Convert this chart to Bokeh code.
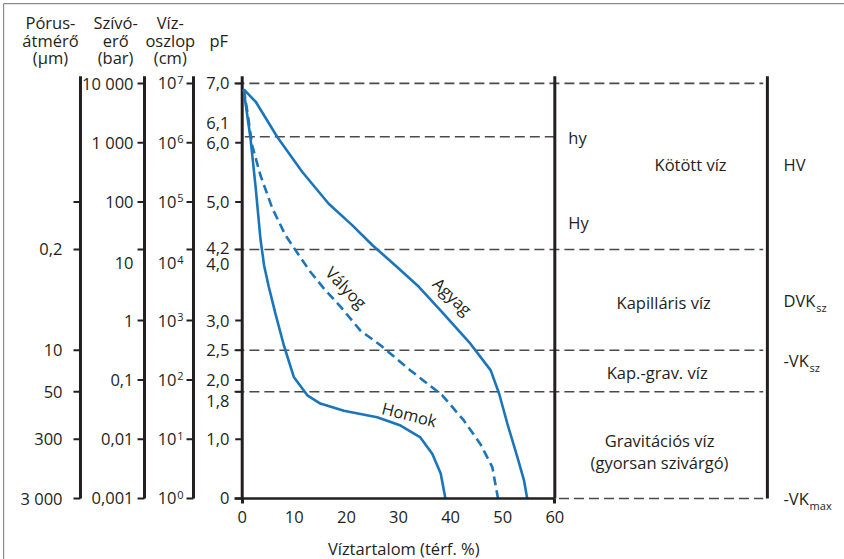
from bokeh.plotting import figure
from bokeh.models import Range1d, FixedTicker
from bokeh.embed import file_html
from bokeh.resources import INLINE
from bokeh.core.properties import value

# ---------------- data ----------------
# pF curves (water content in vol %, pF)
homok_x = [0.3, 0.6, 1.6, 2.6, 3.5, 4.2, 5.1, 6.4, 8.0, 9.9, 12.5, 15.0, 19.5, 25.9, 30.4, 34.2, 36.5, 38.1, 39.0]
homok_pf = [6.90, 6.69, 6.07, 5.23, 4.38, 3.93, 3.57, 3.11, 2.58, 2.05, 1.74, 1.60, 1.48, 1.37, 1.23, 1.03, 0.75, 0.42, 0.0]
valyog_x = [0.3, 1.0, 1.9, 3.5, 5.8, 8.3, 10.9, 13.1, 15.7, 18.9, 22.7, 26.6, 32.3, 38.4, 42.5, 45.7, 48.0, 49.1]
valyog_pf = [6.90, 6.52, 5.96, 5.45, 4.89, 4.44, 4.10, 3.82, 3.54, 3.23, 2.83, 2.58, 2.16, 1.74, 1.32, 0.92, 0.53, 0.0]
agyag_x = [0.3, 2.6, 6.7, 11.5, 16.6, 21.1, 25.0, 29.4, 33.9, 38.1, 43.8, 47.7, 49.3, 50.9, 52.8, 54.1, 54.7]
agyag_pf = [6.90, 6.69, 6.10, 5.51, 4.97, 4.61, 4.27, 3.93, 3.57, 3.17, 2.61, 2.16, 1.77, 1.26, 0.70, 0.30, 0.0]

water_ticks = [0, 10, 20, 30, 40, 50, 60]

# boundaries between water zones (pF)
zone_bounds = [7.0, 4.2, 2.5, 1.8]
hy_pf = 6.1
zone_names = ["Kötött víz", "Kapilláris víz", "Kap.-grav. víz", "Gravitációs víz", "(gyorsan szivárgó)"]

# scale: pF
pf_ticks = [7.0, 6.0, 5.0, 4.2, 3.0, 2.5, 2.0, 1.8, 1.0, 0.0]
pf_labels = ["7,0", "6,1", "6,0", "5,0", "4,2", "4,0", "3,0", "2,5", "2,0", "1,8", "1,0", "0"]
pf_label_pos = [7.0, 6.33, 6.0, 5.0, 4.22, 3.95, 3.0, 2.5, 2.0, 1.65, 1.0, 0.0]
# scale: suction (bar)
szivo_ticks = [7.0, 6.0, 5.0, 4.2, 3.0, 2.0, 1.0, 0.0]
szivo_labels = ["10 000", "1 000", "100", "10", "1", "0,1", "0,01", "0,001"]
szivo_label_pos = [7.0, 6.0, 5.0, 3.97, 3.0, 2.0, 1.0, 0.0]
# scale: water column (cm) = 10^exp
viz_ticks = [7.0, 6.0, 5.0, 4.2, 3.0, 2.0, 1.0, 0.0]
viz_exp = ["7", "6", "5", "4", "3", "2", "1", "0"]
viz_label_pos = [7.0, 6.0, 5.0, 3.97, 3.0, 2.0, 1.0, 0.0]
# scale: pore diameter (µm)
porus_ticks = [5.0, 4.2, 2.5, 1.8, 1.0, 0.0]
porus_labels = ["", "0,2", "10", "50", "300", "3 000"]

# ---------------- style ----------------
FONT = "Open Sans"
FS = "16.5px"
DARK = "#231f20"
BLUE = "#1b75bb"
DASHC = "#4a4a4a"
AX_TOP = 7.12
TICK = 1.34
AX = {"porus": -31.04, "szivo": -18.75, "viz": -9.35, "pf": 0.0}

p = figure(width=844, height=559, output_backend="svg", toolbar_location=None,
           x_range=Range1d(-46.39, 115.60), y_range=Range1d(-1.029, 8.398),
           y_axis_location=None, min_border=0, min_border_left=0, min_border_right=0,
           min_border_top=0, min_border_bottom=0)
p.grid.visible = False
p.outline_line_color = None
p.background_fill_color = "white"
p.border_fill_color = "white"

# x axis, drawn at pF = 0
xa = p.xaxis[0]
xa.fixed_location = 0
xa.ticker = FixedTicker(ticks=water_ticks, minor_ticks=[0, 60])
xa.bounds = (-1.4, 60)
xa.axis_line_width = 2.5
xa.axis_line_color = DARK
xa.major_tick_line_color = None
xa.major_tick_out = 0
xa.major_tick_in = 0
xa.minor_tick_out = 5
xa.minor_tick_in = 0
xa.minor_tick_line_width = 3
xa.minor_tick_line_color = DARK
xa.major_label_text_font = FONT
xa.major_label_text_font_size = FS
xa.major_label_text_color = DARK
xa.major_label_standoff = 8

def txt(x, y, text, align="left", size=FS, angle=0.0):
    p.text(x=x, y=y, text=text, text_align=align, text_baseline="middle",
           text_font=value(FONT), text_font_size=value(size), text_color=DARK, angle=angle)

# image border (left and top edge)
p.segment(x0=[-45.8, -45.8], y0=[-1.1, 8.345], x1=[-45.8, 116], y1=[8.345, 8.345],
          line_color="#8a8a8a", line_width=1.2)

# dashed zone boundaries
p.segment(x0=[-1.5] * len(zone_bounds), y0=zone_bounds, x1=[100.0] * len(zone_bounds), y1=zone_bounds,
          line_color=DASHC, line_width=1.6, line_dash="10 5")
p.segment(x0=[0.5], y0=[hy_pf], x1=[60], y1=[hy_pf], line_color=DASHC, line_width=1.6, line_dash="10 5")
p.segment(x0=[60.8], y0=[0], x1=[100.0], y1=[0], line_color=DASHC, line_width=1.6, line_dash="10 5")

# vertical frame lines
p.segment(x0=[60, 100.8], y0=[0, 0], x1=[60, 100.8], y1=[AX_TOP, AX_TOP], line_color=DARK, line_width=3)

# left scales
axes_x = [AX["porus"], AX["szivo"], AX["viz"], AX["pf"]]
p.segment(x0=axes_x, y0=[0] * 4, x1=axes_x, y1=[AX_TOP] * 4, line_color=DARK, line_width=3)
for key, ticks in (("porus", porus_ticks), ("szivo", szivo_ticks), ("viz", viz_ticks), ("pf", pf_ticks)):
    p.segment(x0=[AX[key] - TICK] * len(ticks), y0=ticks, x1=[AX[key]] * len(ticks), y1=ticks,
              line_color=DARK, line_width=2)

txt([-34.49] * len(porus_labels), porus_ticks, porus_labels, align="right")
txt([-20.86] * len(szivo_labels), szivo_label_pos, szivo_labels, align="right")
txt([-12.61] * len(viz_exp), viz_label_pos, ["10"] * len(viz_exp), align="right")
txt([-12.45] * len(viz_exp), [v + 0.06 for v in viz_label_pos], viz_exp, align="left", size="11px")
txt([-2.44] * len(pf_labels), pf_label_pos, pf_labels, align="right")

# column headers
txt([-36.8] * 3, [8.03, 7.72, 7.43], ["Pórus-", "átmérő", "(µm)"], align="center")
txt([-24.3] * 3, [8.03, 7.72, 7.43], ["Szívó-", "erő", "(bar)"], align="center")
txt([-13.8] * 3, [8.03, 7.72, 7.43], ["Víz-", "oszlop", "(cm)"], align="center")
txt([-4.5], [7.72], ["pF"], align="center")

# curves
p.line(agyag_x, agyag_pf, line_color=BLUE, line_width=2.6)
p.line(homok_x, homok_pf, line_color=BLUE, line_width=2.6)
p.line(valyog_x, valyog_pf, line_color=BLUE, line_width=2.6, line_dash="9 5")

txt([40.4], [3.41], ["Agyag"], align="center", angle=-0.76)
txt([20.0], [3.56], ["Vályog"], align="center", angle=-0.80)
txt([32.1], [1.42], ["Homok"], align="center", angle=-0.25)

# zone texts
txt([86.05, 80.9, 79.65, 80.1, 80.1], [5.64, 3.31, 2.13, 0.98, 0.61], zone_names, align="center")
txt([62.6, 62.6], [6.09, 4.65], ["hy", "Hy"], align="left")
txt([103.9], [5.64], ["HV"], align="left")
txt([103.9, 103.9, 103.9], [3.34, 2.33, 0.0], ["DVK", "-VK", "-VK"], align="left")
txt([103.9 + 6.3, 103.9 + 5.0, 103.9 + 5.0], [3.34 - 0.12, 2.33 - 0.12, -0.12], ["sz", "sz", "max"],
    align="left", size="11px")

# x axis title
txt([31.0], [-0.843], ["Víztartalom (térf. %)"], align="center")

open("out.html", "w").write(file_html(p, INLINE))
